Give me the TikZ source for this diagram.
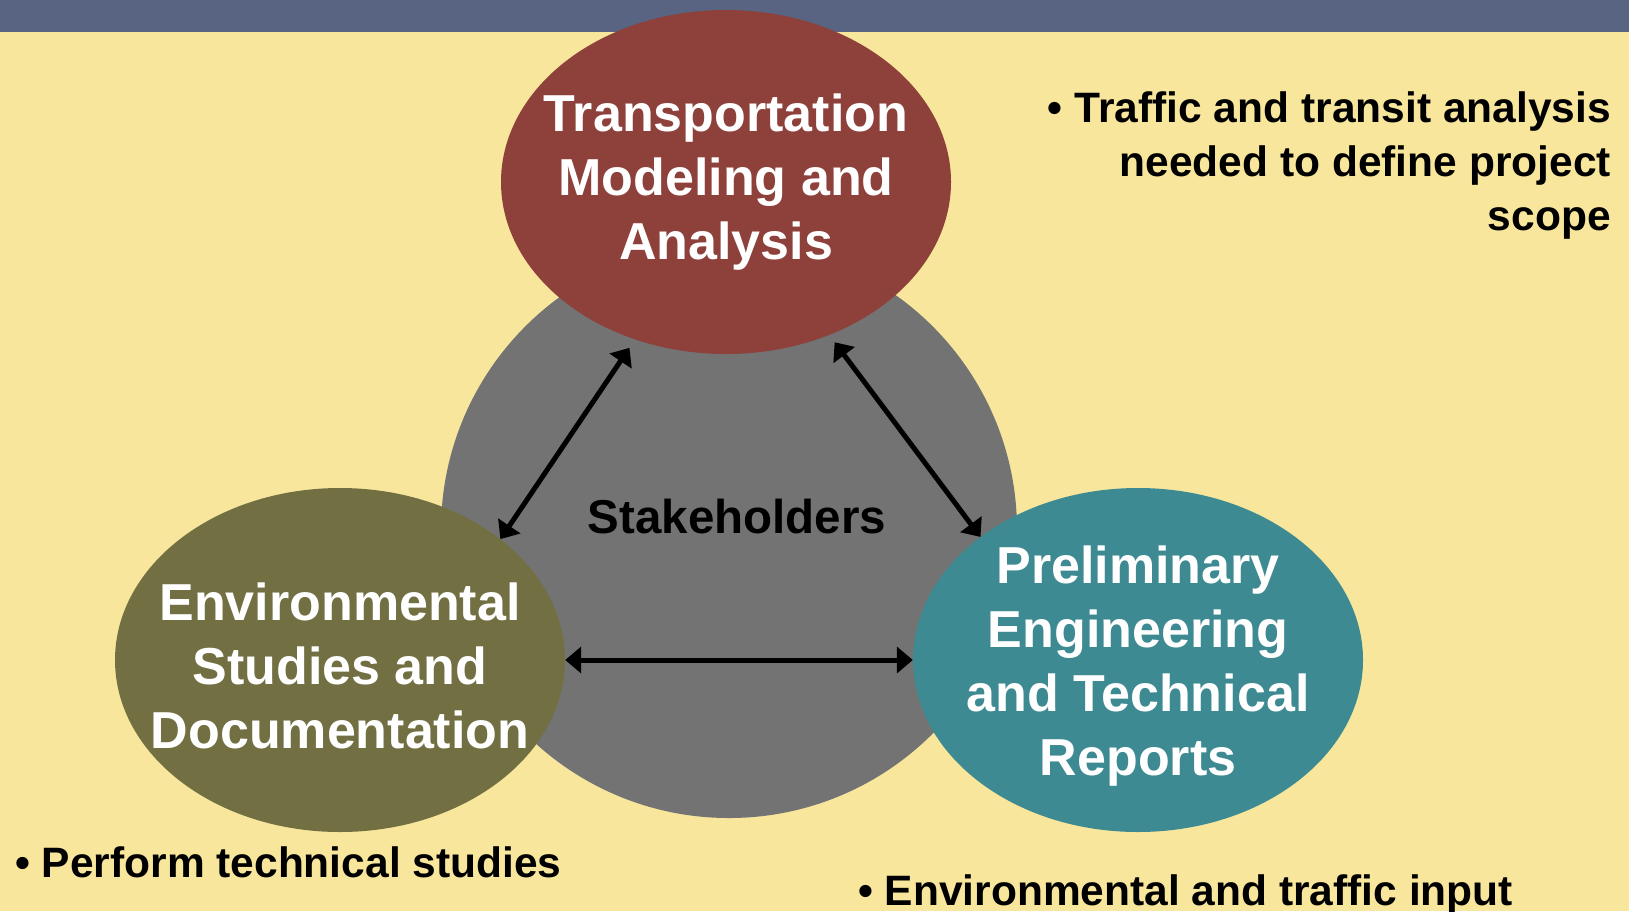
\documentclass[tikz,border=0pt]{standalone}
\usepackage{fontspec}
\setmainfont{Liberation Sans}
\usetikzlibrary{arrows.meta,shapes.geometric}
\definecolor{bgyellow}{HTML}{F7E69C}
\definecolor{topbar}{HTML}{586482}
\definecolor{redbub}{HTML}{8E403A}
\definecolor{graybub}{HTML}{737373}
\definecolor{olivebub}{HTML}{726F42}
\definecolor{tealbub}{HTML}{3D8A92}
\newcommand{\lowerpad}{\rule{0pt}{49pt}}
\tikzset{
  bubble/.style={ellipse, minimum width=450pt, minimum height=344pt, inner xsep=-45pt, inner ysep=-12pt,
    text=white, align=center, font=\bfseries\fontsize{52}{64}\selectfont},
  bullettext/.style={inner sep=0pt, text=black, font=\bfseries\fontsize{42.5}{54}\selectfont},
  link/.style={line width=5pt, {Triangle[length=16pt,width=26pt]}-{Triangle[length=16pt,width=26pt]}}
}
\begin{document}
\begin{tikzpicture}[x=1pt,y=-1pt]
\useasboundingbox (0,0) rectangle (1629,911);
\fill[bgyellow] (0,0) rectangle (1629,911);
\fill[topbar] (0,0) rectangle (1629,32);
\node[circle, fill=graybub, minimum size=576pt, inner sep=0pt] (stake) at (729,530) {};
\node[bubble, fill=redbub] (red) at (726,182) {Transportation\\Modeling and\\Analysis};
\node[bubble, fill=olivebub] (olive) at (340,660) {\lowerpad Environmental\\Studies and\\Documentation};
\node[bubble, fill=tealbub] (teal) at (1138,660) {\lowerpad Preliminary\\Engineering\\and Technical\\Reports};
\node[inner sep=0pt, font=\bfseries\fontsize{47.5}{56}\selectfont] (stlabel) at (737,517) {Stakeholders};
\draw[link, shorten >=10pt] (olive.37) -- (red.-120);
\draw[link, shorten <=9pt] (red.-56) -- (teal.142);
\draw[link] (olive.east) -- (teal.west);
\node[bullettext, align=right, anchor=north east] (note1) at (1611,91) {• Traffic and transit analysis\\needed to define project\\scope};
\node[bullettext, anchor=base west] (note2) at (15,877) {• Perform technical studies};
\node[bullettext, anchor=base west] (note3) at (858,905) {• Environmental and traffic input};
\end{tikzpicture}
\end{document}
